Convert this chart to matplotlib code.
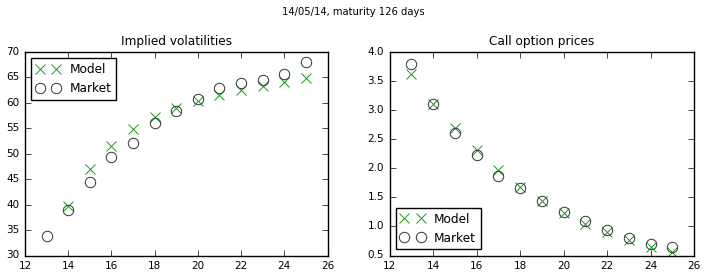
import numpy as np
import matplotlib
matplotlib.use("Agg")
import matplotlib.pyplot as plt

plt.style.use("classic")

strikes = [13, 14, 15, 16, 17, 18, 19, 20, 21, 22, 23, 24, 25]
model_vol = [np.nan, 39.8, 47.1, 51.6, 54.8, 57.2, 59.0, 60.3, 61.6, 62.6, 63.4, 64.2, 64.9]
market_vol = [33.9, 39.0, 44.5, 49.3, 52.2, 56.0, 58.5, 60.7, 62.9, 64.0, 64.5, 65.6, 68.0]
model_price = [3.62, 3.11, 2.69, 2.31, 1.97, 1.68, 1.44, 1.23, 1.05, 0.90, 0.77, 0.65, 0.56]
market_price = [3.79, 3.10, 2.60, 2.22, 1.87, 1.66, 1.43, 1.25, 1.09, 0.94, 0.80, 0.70, 0.65]

suptitle = "14/05/14, maturity 126 days"
titles = ["Implied volatilities", "Call option prices"]

fig = plt.figure(figsize=(7.07, 2.77), dpi=100, facecolor="white")
fig.suptitle(suptitle, fontsize=7.2, y=0.975)

ax1 = fig.add_axes([25/707, 1-255.5/277, (327.5-25)/707, (255.5-52)/277])
ax2 = fig.add_axes([389.5/707, 1-255.5/277, (694-389.5)/707, (255.5-52)/277])

for ax, mod, mkt, title, loc in [(ax1, model_vol, market_vol, titles[0], "upper left"),
                                  (ax2, model_price, market_price, titles[1], "lower left")]:
    ax.plot(strikes, mod, "x", color="#1a9a1a", markersize=7.5, markeredgewidth=0.7, label="Model")
    ax.plot(strikes, mkt, "o", markerfacecolor="none", markeredgecolor="#333333",
            markersize=7.5, markeredgewidth=0.7, label="Market")
    ax.set_title(title, fontsize=8.7)
    ax.tick_params(labelsize=7.5)
    ax.set_xlim(12, 26)
    leg = ax.legend(loc=loc, numpoints=2, fontsize=8.7, borderaxespad=0.5)
    leg.get_frame().set_linewidth(1.0)

ax1.set_ylim(30, 70)
ax2.set_ylim(0.5, 4.0)

fig.savefig("out.png", dpi=100, facecolor="white")
